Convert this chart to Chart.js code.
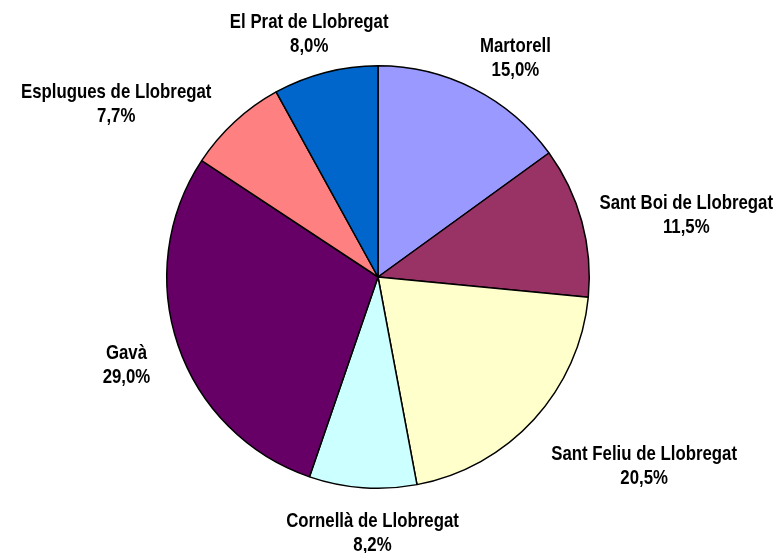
<!DOCTYPE html>
<html>
<head>
<meta charset="utf-8">
<script src="https://cdn.jsdelivr.net/npm/chart.js@4"></script>
<style>
  html, body { margin: 0; padding: 0; background: #fff; }
  #wrap { width: 780px; height: 553px; }
</style>
</head>
<body>
<div id="wrap"><canvas id="pieChart"></canvas></div>
<script>
    // dades
    const categories = ['Martorell', 'Sant Boi de Llobregat', 'Sant Feliu de Llobregat',
        'Cornellà de Llobregat', 'Gavà', 'Esplugues de Llobregat', 'El Prat de Llobregat'];
    const percentages = [15.0, 11.5, 20.5, 8.2, 29.0, 7.7, 8.0];
    const sliceColors = ['#9999FF', '#993366', '#FFFFCC', '#CCFFFF', '#660066', '#FF8080', '#0066CC'];
    // ajustos de posició de les etiquetes respecte del punt radial (px)
    const labelNudge = [[21, 8], [61, 4], [77, 15], [13, -1], [-9, 4], [-88, 14], [-5, 4]];

    // text estret (tipus Arial Narrow): font normal comprimida horitzontalment
    const labelFont = 'bold 21px "Liberation Sans", Arial, sans-serif';
    const narrow = 0.8;

    const outsideLabels = {
        id: 'outsideLabels',
        afterDatasetsDraw(chart) {
            const c = chart.ctx;
            const meta = chart.getDatasetMeta(0);
            const lineH = 24;
            c.save();
            c.font = labelFont;
            c.fillStyle = '#000';
            c.textAlign = 'center';
            c.textBaseline = 'alphabetic';
            meta.data.forEach((arc, i) => {
                const p = arc.getProps(['x', 'y', 'startAngle', 'endAngle', 'outerRadius'], true);
                const mid = (p.startAngle + p.endAngle) / 2;
                const r = p.outerRadius + 45;
                const cx = p.x + Math.cos(mid) * r + labelNudge[i][0];
                const cy = p.y + Math.sin(mid) * r + labelNudge[i][1];
                const lines = [categories[i], percentages[i].toFixed(1).replace('.', ',') + '%'];
                lines.forEach((t, k) => {
                    const y = cy + (k - 0.5) * lineH + 7.5;
                    c.save();
                    c.translate(cx, y);
                    c.scale(narrow, 1);
                    c.fillText(t, 0, 0);
                    c.restore();
                });
            });
            c.restore();
        }
    };

    const ctx = document.getElementById('pieChart').getContext('2d');
    new Chart(ctx, {
        type: 'pie',
        data: {
            labels: categories,
            datasets: [{
                data: percentages,
                backgroundColor: sliceColors,
                borderColor: '#000',
                borderWidth: 1.5
            }]
        },
        options: {
            responsive: true,
            maintainAspectRatio: false,
            animation: false,
            layout: { padding: { top: 65, bottom: 64, left: 0, right: 24 } },
            plugins: {
                legend: { display: false },
                tooltip: { enabled: false }
            }
        },
        plugins: [outsideLabels]
    });
</script>
</body>
</html>
